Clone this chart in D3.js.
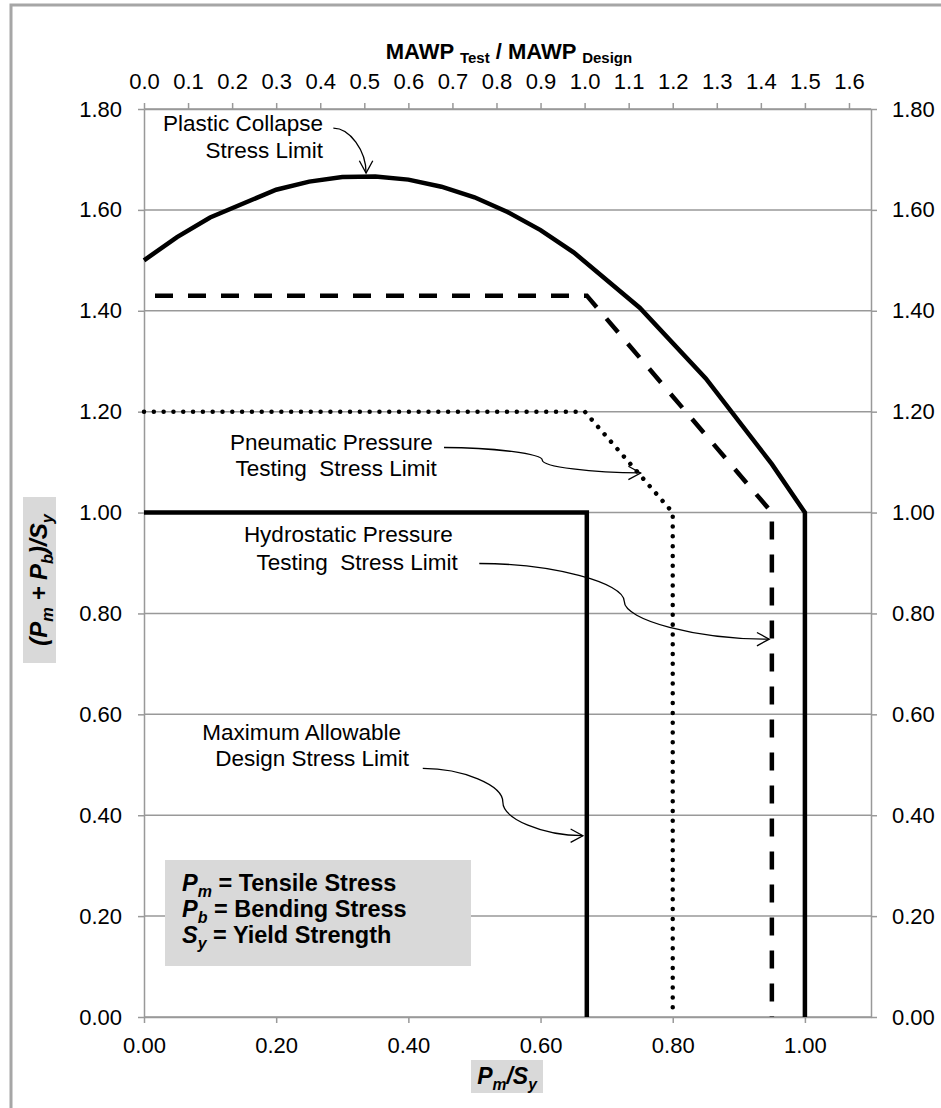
<!DOCTYPE html>
<html>
<head>
<meta charset="utf-8">
<script src="https://cdn.jsdelivr.net/npm/d3@7"></script>
<style>
  body { margin: 0; background: #fff; }
  svg { display: block; font-family: "Liberation Sans", Arial, sans-serif; }
  .axis text { font-size: 22px; fill: #000; font-family: "Liberation Sans", Arial, sans-serif; }
  .axis path, .axis line { stroke: #999; stroke-width: 1.5; }
  .note { font-size: 22.5px; fill: #000; white-space: pre; }
</style>
</head>
<body>
<script>
// Values
var plasticX = [0, 0.05, 0.10, 0.20, 0.25, 0.30, 0.35, 0.40, 0.45, 0.50, 0.55, 0.60, 0.65, 0.75, 0.85, 0.95, 1.00, 1.00];
var plasticY = [1.500, 1.546, 1.585, 1.640, 1.656, 1.665, 1.666, 1.660, 1.646, 1.625, 1.596, 1.560, 1.516, 1.406, 1.266, 1.096, 1.000, 0.00];
var hydroX = [0, 0.67, 0.95, 0.95];
var hydroY = [1.43, 1.43, 1.00, 0.00];
var pneuX = [0, 0.667, 0.80, 0.80];
var pneuY = [1.20, 1.20, 1.00, 0.00];
var designX = [0, 0.67, 0.67];
var designY = [1.00, 1.00, 0.00];

var xTicks = [0, 0.2, 0.4, 0.6, 0.8, 1.0];
var yTicks = [0, 0.2, 0.4, 0.6, 0.8, 1.0, 1.2, 1.4, 1.6, 1.8];
var topTicks = [0, 0.1, 0.2, 0.3, 0.4, 0.5, 0.6, 0.7, 0.8, 0.9, 1.0, 1.1, 1.2, 1.3, 1.4, 1.5, 1.6];

// call-outs: text right ends / baselines and arrow start & tip, in data units
var notes = [
  { lines: ["Plastic Collapse", "Stress Limit"], ends: [0.271, 0.271], bases: [1.757, 1.703],
    from: [0.2865, 1.762], to: [0.336, 1.673], kind: 2 },
  { lines: ["Pneumatic Pressure", "Testing  Stress Limit"], ends: [0.4368, 0.4429], bases: [1.125, 1.072],
    from: [0.4539, 1.129], to: [0.7515, 1.0785], kind: 3 },
  { lines: ["Hydrostatic Pressure", "Testing  Stress Limit"], ends: [0.4671, 0.4747], bases: [0.9407, 0.8862],
    from: [0.5073, 0.899], to: [0.946, 0.749], kind: 3 },
  { lines: ["Maximum Allowable", "Design Stress Limit"], ends: [0.3889, 0.401], bases: [0.5498, 0.497],
    from: [0.4218, 0.4928], to: [0.6641, 0.3594], kind: 3 }
];

var svgWidth = 941;
var svgHeight = 1108;

var svg = d3.select("body")
  .append("svg")
  .attr("width", svgWidth)
  .attr("height", svgHeight);

// outer frame (only left and top edges are in view)
svg.append("rect")
  .attr("x", 11).attr("y", 5)
  .attr("width", 960).attr("height", 1130)
  .attr("fill", "none").attr("stroke", "#a6a6a6").attr("stroke-width", 3);

var x = d3.scaleLinear().domain([0, 1.1]).range([144, 871]);
var y = d3.scaleLinear().domain([0, 1.8]).range([1017, 109]);
var xTop = d3.scaleLinear().domain([0, 1.65]).range([144, 871]);

// gridlines
svg.selectAll("line.grid")
  .data(yTicks)
  .enter()
  .append("line")
  .attr("class", "grid")
  .attr("x1", x(0)).attr("x2", x(1.1))
  .attr("y1", d => y(d)).attr("y2", d => y(d))
  .attr("stroke", "#999").attr("stroke-width", 1.5);

// axes
svg.append("g").attr("class", "axis")
  .attr("transform", `translate(${x(0)},0)`)
  .call(d3.axisLeft(y).tickValues(yTicks).tickFormat(d3.format(".2f")).tickSize(6).tickSizeOuter(0).tickPadding(16));

svg.append("g").attr("class", "axis")
  .attr("transform", `translate(${x(1.1)},0)`)
  .call(d3.axisRight(y).tickValues(yTicks).tickFormat(d3.format(".2f")).tickSize(6).tickSizeOuter(0).tickPadding(15));

svg.append("g").attr("class", "axis")
  .attr("transform", `translate(0,${y(0)})`)
  .call(d3.axisBottom(x).tickValues(xTicks).tickFormat(d3.format(".2f")).tickSize(6).tickSizeOuter(0).tickPadding(14));

svg.append("g").attr("class", "axis")
  .attr("transform", `translate(0,${y(1.8)})`)
  .call(d3.axisTop(xTop).tickValues(topTicks).tickFormat(d3.format(".1f")).tickSize(6).tickSizeOuter(0).tickPadding(14));

// legend box
svg.append("rect")
  .attr("x", 165).attr("y", 860)
  .attr("width", 306).attr("height", 106)
  .attr("fill", "#d9d9d9");

// helper: text with subscripts, parts = [text, isSub, italic]
function rich(t, parts, fs) {
  var shift = fs * 0.24;
  var down = false;
  parts.forEach(function(p) {
    var sp = t.append("tspan").text(p[0]);
    if (p[2]) sp.attr("font-style", "italic");
    if (p[1]) {
      sp.attr("font-size", fs * 0.68);
      if (!down) { sp.attr("dy", shift); down = true; }
    } else {
      sp.attr("font-size", fs);
      if (down) { sp.attr("dy", -shift); down = false; }
    }
  });
}

var legendLines = [
  [["P", false, true], ["m", true, true], [" = Tensile Stress", false, false]],
  [["P", false, true], ["b", true, true], [" = Bending Stress", false, false]],
  [["S", false, true], ["y", true, true], [" = Yield Strength", false, false]]
];
legendLines.forEach(function(parts, i) {
  var t = svg.append("text")
    .attr("x", 182).attr("y", 891 + i * 26)
    .attr("font-weight", "bold")
    .style("white-space", "pre");
  rich(t, parts, 23.5);
});

// series lines
function series(xs, ys) {
  return d3.line().x(d => x(xs[d])).y(d => y(ys[d]))(d3.range(xs.length));
}

svg.append("path")
  .attr("d", series(designX, designY))
  .attr("fill", "none").attr("stroke", "#000").attr("stroke-width", 4.5)
  .attr("stroke-linejoin", "miter");

svg.append("path")
  .attr("d", series(pneuX, pneuY))
  .attr("fill", "none").attr("stroke", "#000").attr("stroke-width", 4.5)
  .attr("stroke-linecap", "round")
  .attr("stroke-dasharray", "0.01,9.8");

svg.append("path")
  .attr("d", series(hydroX, hydroY))
  .attr("fill", "none").attr("stroke", "#000").attr("stroke-width", 4.5)
  .attr("stroke-dasharray", "18,15")
  .attr("stroke-dashoffset", 22);

svg.append("path")
  .attr("d", series(plasticX, plasticY))
  .attr("fill", "none").attr("stroke", "#000").attr("stroke-width", 4.5)
  .attr("stroke-linejoin", "miter");

// call-outs with curved connector arrows
notes.forEach(function(n) {
  n.lines.forEach(function(s, i) {
    svg.append("text").attr("class", "note")
      .attr("x", x(n.ends[i])).attr("y", y(n.bases[i]))
      .attr("text-anchor", "end")
      .text(s);
  });
  var l = x(n.from[0]), t = y(n.from[1]), r = x(n.to[0]), b = y(n.to[1]);
  var d, cx, cy;
  if (n.kind === 2) {
    d = `M${l},${t}C${(l + r) / 2},${t} ${r},${(t + b) / 2} ${r},${b}`;
    cx = r; cy = (t + b) / 2;
  } else {
    var x2 = (l + r) / 2, x1 = (l + x2) / 2, x3 = (r + x2) / 2;
    d = `M${l},${t}C${x1},${t} ${x2},${t + (b - t) / 4} ${x2},${(t + b) / 2}` +
        `C${x2},${t + (b - t) * 3 / 4} ${x3},${b} ${r},${b}`;
    cx = x3; cy = b;
  }
  svg.append("path").attr("d", d)
    .attr("fill", "none").attr("stroke", "#000").attr("stroke-width", 1.3);
  var a = Math.atan2(b - cy, r - cx);
  var len = 14, spread = 0.5;
  var head = `M${r - len * Math.cos(a - spread)},${b - len * Math.sin(a - spread)}L${r},${b}` +
             `L${r - len * Math.cos(a + spread)},${b - len * Math.sin(a + spread)}`;
  svg.append("path").attr("d", head)
    .attr("fill", "none").attr("stroke", "#000").attr("stroke-width", 1.3);
});

// top axis title
var title = svg.append("text")
  .attr("x", 509).attr("y", 59)
  .attr("text-anchor", "middle")
  .attr("font-weight", "bold")
  .style("white-space", "pre");
title.append("tspan").attr("font-size", 22).text("MAWP ");
title.append("tspan").attr("font-size", 15).attr("dy", 4).text("Test");
title.append("tspan").attr("font-size", 22).attr("dy", -4).text(" / MAWP ");
title.append("tspan").attr("font-size", 15).attr("dy", 4).text("Design");

// bottom axis title
svg.append("rect")
  .attr("x", 471).attr("y", 1060)
  .attr("width", 72).attr("height", 33)
  .attr("fill", "#d9d9d9");
var xt = svg.append("text")
  .attr("x", 507).attr("y", 1084)
  .attr("text-anchor", "middle")
  .attr("font-weight", "bold");
rich(xt, [["P", false, true], ["m", true, true], ["/S", false, true], ["y", true, true]], 23);

// left axis title
svg.append("rect")
  .attr("x", 23).attr("y", 497)
  .attr("width", 33).attr("height", 166)
  .attr("fill", "#d9d9d9");
var yt = svg.append("text")
  .attr("transform", "translate(47,580) rotate(-90)")
  .attr("text-anchor", "middle")
  .attr("font-weight", "bold")
  .style("white-space", "pre");
rich(yt, [["(P", false, true], ["m", true, true], [" + P", false, true], ["b", true, true],
          [")/S", false, true], ["y", true, true]], 24);
</script>
</body>
</html>
